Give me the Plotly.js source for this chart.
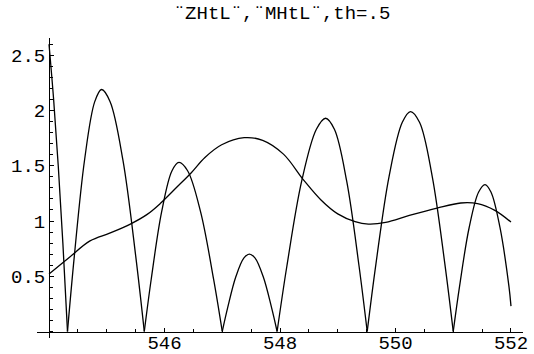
<!DOCTYPE html>
<html>
<head>
<meta charset="utf-8">
<script src="https://cdn.plot.ly/plotly-3.0.1.min.js"></script>
<style>
html,body{margin:0;padding:0;background:#fff;}
#chart{width:534px;height:354px;}
</style>
</head>
<body>
<div id="chart"></div>
<script>
// Title and tick labels
const chartTitle = '¨ZHtL¨,¨MHtL¨,th=.5';
const xTickVals = [546, 548, 550, 552];
const xTickText = ['546', '548', '550', '552'];
const yTickVals = [0.5, 1, 1.5, 2, 2.5];
const yTickText = ['0.5', '1', '1.5', '2', '2.5'];

// Series Z: |Z(t)| arches (null separates arches so each bottom stays sharp)
const zX = [
  544.00, 544.08, 544.16, 544.24, 544.32, null,
  544.32, 544.438, 544.615, 544.792, 544.91, 545.058, 545.28, 545.502, 545.65, null,
  545.65, 545.77, 545.95, 546.13, 546.25, 546.40, 546.625, 546.85, 547.00, null,
  547.00, 547.094, 547.235, 547.376, 547.47, 547.566, 547.71, 547.854, 547.95, null,
  547.95, 548.12, 548.375, 548.63, 548.79, 548.942, 549.155, 549.368, 549.51, null,
  549.51, 549.662, 549.89, 550.118, 550.26, 550.416, 550.635, 550.854, 551.00, null,
  551.00, 551.11, 551.275, 551.44, 551.55, 551.653, 551.81, 551.964, 552.00
];
const zY = [
  2.60, 2.10, 1.50, 0.80, 0.00, null,
  0.00, 0.68, 1.55, 2.08, 2.19, 2.08, 1.55, 0.68, 0.00, null,
  0.00, 0.473, 1.082, 1.455, 1.53, 1.455, 1.082, 0.473, 0.00, null,
  0.00, 0.216, 0.495, 0.666, 0.70, 0.666, 0.495, 0.216, 0.00, null,
  0.00, 0.595, 1.36, 1.83, 1.93, 1.83, 1.36, 0.595, 0.00, null,
  0.00, 0.615, 1.407, 1.893, 1.99, 1.893, 1.407, 0.615, 0.00, null,
  0.00, 0.41, 0.939, 1.263, 1.33, 1.263, 0.939, 0.41, 0.23
];

// Series M: smooth curve
const mX = [544.00, 544.35, 544.71, 545.05, 545.40, 545.70, 545.93, 546.22, 546.46, 546.70,
            546.99, 547.38, 547.70, 548.06, 548.41, 548.71, 549.00, 549.30, 549.53, 549.83,
            550.24, 550.72, 551.13, 551.42, 551.72, 552.00];
const mY = [0.52, 0.67, 0.82, 0.89, 0.97, 1.06, 1.16, 1.31, 1.435, 1.575,
            1.69, 1.754, 1.73, 1.605, 1.37, 1.19, 1.064, 0.994, 0.972, 0.987,
            1.05, 1.117, 1.163, 1.157, 1.096, 0.99];

// Axis ranges (axes cross at x=544, y=0 like the original)
const xRange = [543.792, 552.208];
const yRange = [-0.0588, 2.656];
const xCross = 544, yCross = 0;

const font = {family: 'Liberation Mono, Courier New, monospace', size: 19, color: '#000'};

const traces = [
  {x: zX, y: zY, type: 'scatter', mode: 'lines', connectgaps: false,
   line: {color: '#000', width: 1.3, shape: 'spline', smoothing: 1}, hoverinfo: 'skip'},
  {x: mX, y: mY, type: 'scatter', mode: 'lines',
   line: {color: '#000', width: 1.3, shape: 'spline', smoothing: 1}, hoverinfo: 'skip'}
];

const layout = {
  width: 534, height: 354,
  margin: {l: 37, r: 11, t: 38, b: 16, pad: 0},
  paper_bgcolor: '#fff', plot_bgcolor: '#fff',
  showlegend: false,
  font: font,
  title: {text: chartTitle, font: font, xref: 'container', yref: 'container',
          x: 282 / 534, xanchor: 'center', y: 1 - 12 / 354, yanchor: 'middle'},
  xaxis: {
    range: xRange, anchor: 'free',
    position: (yCross - yRange[0]) / (yRange[1] - yRange[0]),
    showgrid: false, zeroline: false,
    showline: true, linecolor: '#000', linewidth: 1,
    tickmode: 'array', tickvals: xTickVals, ticktext: xTickText,
    ticks: 'inside', ticklen: 4, tickwidth: 1, tickcolor: '#000',
    ticklabelstandoff: -6,
    minor: {tickmode: 'linear', tick0: 544, dtick: 0.5, ticks: 'inside', ticklen: 2.5, tickwidth: 1, tickcolor: '#000', showgrid: false},
    tickfont: font
  },
  yaxis: {
    range: yRange, anchor: 'free',
    position: (xCross - xRange[0]) / (xRange[1] - xRange[0]),
    showgrid: false, zeroline: false,
    showline: true, linecolor: '#000', linewidth: 1,
    tickmode: 'array', tickvals: yTickVals, ticktext: yTickText,
    ticks: 'inside', ticklen: 4, tickwidth: 1, tickcolor: '#000',
    minor: {tickmode: 'linear', tick0: 0, dtick: 0.1, ticks: 'inside', ticklen: 2.5, tickwidth: 1, tickcolor: '#000', showgrid: false},
    tickfont: font
  }
};

Plotly.newPlot('chart', traces, layout, {displayModeBar: false, staticPlot: true});
</script>
</body>
</html>
